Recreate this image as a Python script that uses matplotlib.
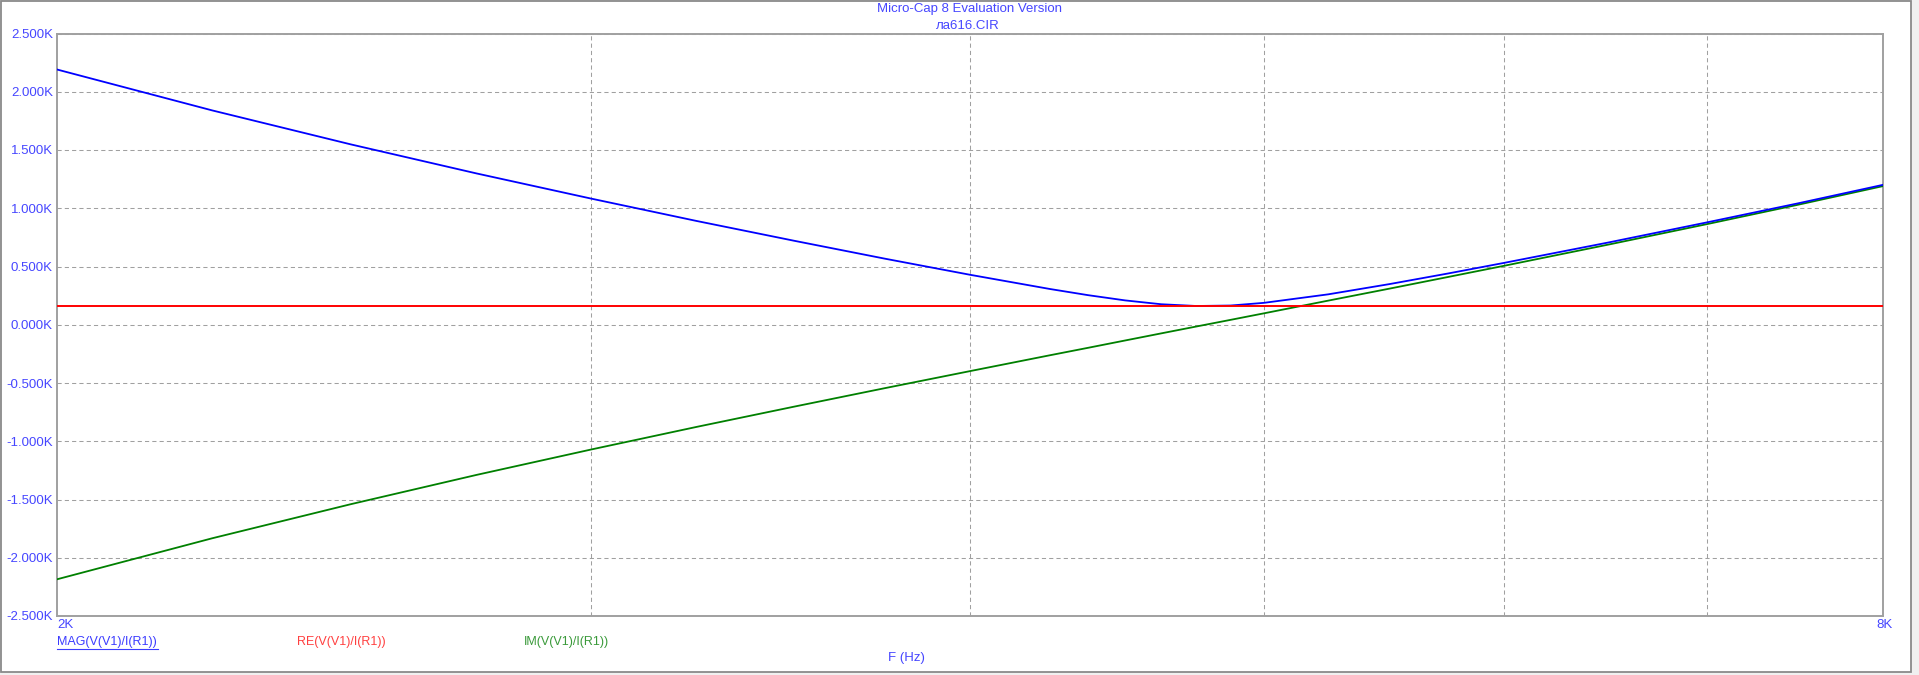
import matplotlib
matplotlib.use("Agg")
import matplotlib.pyplot as plt
from matplotlib.patches import Rectangle
from matplotlib.ticker import NullLocator

plt.rcParams['font.family'] = ['Liberation Sans', 'DejaVu Sans']

# frequency points (Hz) and values (ohms)
freq = [2000, 2250, 2500, 2750, 3000, 3250, 3500, 3750, 4000, 4250,
        4375, 4500, 4625, 4750, 4875, 5000, 5250, 5500, 5750, 6000,
        6500, 7000, 7500, 8000]
mag = [2191, 1840, 1548, 1299, 1083, 891, 721, 567, 429, 307,
       254, 209, 176, 161, 165, 188, 261, 349, 440, 531,
       708, 879, 1042, 1201]
re = [160] * len(freq)
im = [-2185, -1833, -1540, -1289, -1071, -877, -703, -544, -398, -262,
      -198, -135, -74, -15, 42, 98, 207, 310, 410, 506,
      690, 864, 1030, 1190]

y_ticks = [-2500, -2000, -1500, -1000, -500, 0, 500, 1000, 1500, 2000, 2500]
y_labels = ['-2.500K', '-2.000K', '-1.500K', '-1.000K', '-0.500K', '0.000K',
            '0.500K', '1.000K', '1.500K', '2.000K', '2.500K']
x_grid = [3000, 4000, 5000, 6000, 7000]

W, H = 1919, 675
TXT = '#4646ff'
GRID = '#a0a0a0'

fig = plt.figure(figsize=(W / 100, H / 100), dpi=100)
fig.patch.set_facecolor('#f0f0f0')
fig.patches.append(Rectangle((1 / W, 3 / H), 1910 / W, 671 / H,
                             transform=fig.transFigure, facecolor='white',
                             edgecolor='#8a8a8a', linewidth=1.3, zorder=-5))

ax = fig.add_axes([57 / W, 1 - 616 / H, (1883 - 57) / W, (616 - 33.5) / H])
ax.set_facecolor('white')

ax.plot(freq, im, color='#008000', lw=1.3, zorder=3)
ax.plot(freq, mag, color='#0000ff', lw=1.3, zorder=4)
ax.plot(freq, re, color='#ff0000', lw=1.4, zorder=5)

ax.set_xscale('log')
ax.set_xlim(2000, 8000)
ax.set_ylim(-2500, 2500)
ax.set_xticks(x_grid)
ax.set_xticklabels([])
ax.xaxis.set_minor_locator(NullLocator())
ax.set_yticks(y_ticks)
ax.set_yticklabels(y_labels, color=TXT, fontsize=9.5)
ax.tick_params(axis='both', length=0, pad=3)

ax.grid(True, color=GRID, linestyle=(0, (4, 3)), linewidth=0.75)
for s in ax.spines.values():
    s.set_color(GRID)
    s.set_linewidth(1.4)

# titles and labels
fig.text(969 / W, 1 - 9.3 / H, 'Micro-Cap 8 Evaluation Version', color=TXT,
         fontsize=9.5, ha='center', va='center')
fig.text(968 / W, 1 - 25.7 / H, 'ла616.CIR', color=TXT,
         fontsize=9.5, ha='center', va='center')
fig.text(57 / W, 1 - 625 / H, '2K', color=TXT, fontsize=9.5,
         ha='left', va='center')
fig.text(1884 / W, 1 - 625 / H, '8K', color=TXT, fontsize=9.5,
         ha='center', va='center')
fig.text(906 / W, 1 - 658 / H, 'F (Hz)', color=TXT, fontsize=9.5,
         ha='center', va='center')

fig.text(57 / W, 1 - 642 / H, 'MAG(V(V1)/I(R1))', color='#3c3cff',
         fontsize=9, ha='left', va='center')
fig.add_artist(plt.Line2D([57 / W, 158 / W], [1 - 649 / H, 1 - 649 / H],
                          transform=fig.transFigure, color='#3c3cff', lw=0.8))
fig.text(297 / W, 1 - 642 / H, 'RE(V(V1)/I(R1))', color='#ff4040',
         fontsize=9, ha='left', va='center')
fig.text(524 / W, 1 - 642 / H, 'IM(V(V1)/I(R1))', color='#3a9a3a',
         fontsize=9, ha='left', va='center')

fig.savefig('out.png', dpi=100, facecolor=fig.get_facecolor())
